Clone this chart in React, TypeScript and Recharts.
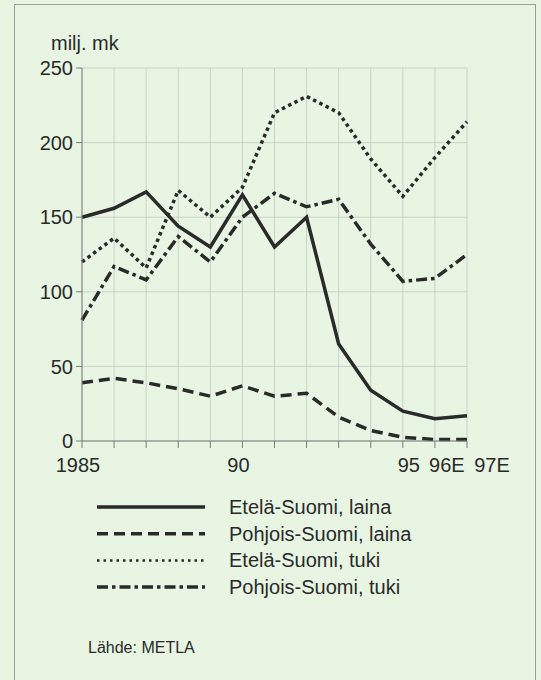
import { LineChart, Line, XAxis, YAxis, CartesianGrid } from "recharts";

const years = [1985, 1986, 1987, 1988, 1989, 1990, 1991, 1992, 1993, 1994, 1995, 1996, 1997];
const etelaLaina = [150, 156, 167, 144, 130, 165, 130, 150, 65, 34, 20, 15, 17];
const pohjoisLaina = [39, 42, 39, 35, 30, 37, 30, 32, 16, 7, 2.5, 1, 1];
const etelaTuki = [120, 136, 116, 168, 150, 170, 220, 231, 220, 189, 164, 190, 214];
const pohjoisTuki = [81, 117, 108, 137, 120, 150, 166, 157, 162, 132, 107, 109, 125];

const labelYears = [1985, 1990, 1995, 1996, 1997];
const labelTexts = ["1985", "90", "95", "96E", "97E"];
const yTicks = [0, 50, 100, 150, 200, 250];

const seriesNames = [
  "Etelä-Suomi, laina",
  "Pohjois-Suomi, laina",
  "Etelä-Suomi, tuki",
  "Pohjois-Suomi, tuki",
];

const data = years.map((y, i) => ({
  year: y,
  el: etelaLaina[i],
  pl: pohjoisLaina[i],
  et: etelaTuki[i],
  pt: pohjoisTuki[i],
}));

const ink = "#2a2a2a";
const font = "'Liberation Sans', Arial, sans-serif";
const dashes = ["", "11 6", "3.5 3.5", "11 4 3.5 4"];

// labels are nudged apart at the crowded right end, like in the print
const nudge: Record<number, number> = { 1985: -4, 1990: -4, 1995: 6, 1996: 12, 1997: 25 };

const YearTick = (props: any) => {
  const { x, y, payload } = props;
  const idx = labelYears.indexOf(payload.value);
  if (idx < 0) return null;
  return (
    <text
      x={x + (nudge[payload.value] || 0)}
      y={y}
      dy="0.71em"
      textAnchor="middle"
      fill={ink}
      fontSize={20}
      fontFamily={font}
    >
      {labelTexts[idx]}
    </text>
  );
};

const App = () => {
  return (
    <div
      style={{
        position: "absolute",
        left: 0,
        top: 0,
        width: 541,
        height: 680,
        background: "#e8f5e3",
        fontFamily: font,
      }}
    >
      <div
        style={{
          position: "absolute",
          left: 14,
          top: 4,
          width: 522,
          height: 680,
          border: "1px solid #9a9f9a",
          borderBottom: "none",
          boxSizing: "border-box",
        }}
      />
      <div
        style={{
          position: "absolute",
          left: 51,
          top: 31,
          fontSize: 20,
          color: ink,
          lineHeight: "24px",
        }}
      >
        milj. mk
      </div>
      <div style={{ position: "absolute", left: 0, top: 0 }}>
        <LineChart
          width={541}
          height={480}
          data={data}
          margin={{ top: 68, right: 74, bottom: 9, left: 22 }}
        >
          <CartesianGrid stroke="#bcc5bc" strokeWidth={0.7} />
          <XAxis
            dataKey="year"
            type="number"
            domain={[1985, 1997]}
            ticks={years}
            interval={0}
            height={30}
            tickSize={7}
            tickMargin={10}
            stroke="#7a7f7a"
            tick={<YearTick />}
          />
          <YAxis
            domain={[0, 250]}
            ticks={yTicks}
            width={60}
            tickSize={6}
            tickMargin={3}
            stroke="#7a7f7a"
            tick={{ fill: ink, fontSize: 20, fontFamily: font }}
          />
          <Line dataKey="el" type="linear" stroke={ink} strokeWidth={3.5} dot={false} isAnimationActive={false} />
          <Line dataKey="pl" type="linear" stroke={ink} strokeWidth={3.5} strokeDasharray={dashes[1]} dot={false} isAnimationActive={false} />
          <Line dataKey="et" type="linear" stroke={ink} strokeWidth={3.5} strokeDasharray={dashes[2]} dot={false} isAnimationActive={false} />
          <Line dataKey="pt" type="linear" stroke={ink} strokeWidth={3.5} strokeDasharray={dashes[3]} dot={false} isAnimationActive={false} />
        </LineChart>
      </div>
      <svg
        style={{ position: "absolute", left: 0, top: 490 }}
        width={541}
        height={120}
      >
        {seriesNames.map((name, i) => {
          const cy = 17 + i * 26.7;
          return (
            <g key={name}>
              <line
                x1={97}
                x2={205}
                y1={cy}
                y2={cy}
                stroke={ink}
                strokeWidth={i === 2 ? 2.5 : 3.5}
                strokeDasharray={i === 2 ? "2.5 4" : dashes[i] || undefined}
              />
              <text x={229} y={cy + 7} fontSize={20} fill={ink} fontFamily={font}>
                {name}
              </text>
            </g>
          );
        })}
      </svg>
      <div
        style={{
          position: "absolute",
          left: 88,
          top: 639,
          fontSize: 16,
          color: ink,
          lineHeight: "18px",
        }}
      >
        Lähde: METLA
      </div>
    </div>
  );
};

export default App;
